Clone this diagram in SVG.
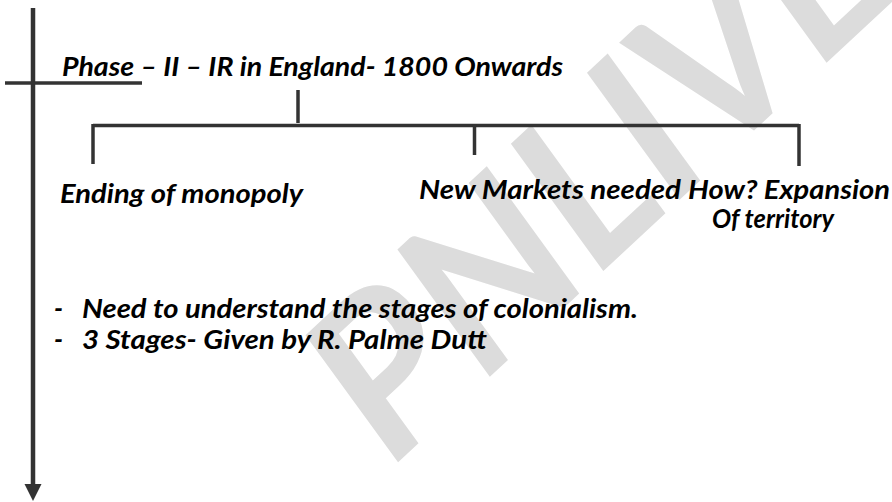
<svg xmlns="http://www.w3.org/2000/svg" width="892" height="502" viewBox="0 0 892 502">
<style>
.t{font-family:Lato,"Liberation Sans",sans-serif;font-weight:bold;font-style:italic;font-size:26px;fill:#000}
.wm{font-family:Lato,"Liberation Sans",sans-serif;font-weight:bold;font-style:italic;font-size:216px;fill:#dcdcdc}
.ln{stroke:#333;stroke-width:3.5;fill:none}
.main{stroke:#333;stroke-width:4.5;fill:none}
</style>
<rect width="892" height="502" fill="#fff"/>
<text class="wm" transform="translate(392,468) rotate(-43)">PNLIVE</text>
<g id="connectors">
<line class="main" x1="33" y1="8" x2="33" y2="485"/>
<path d="M24.5,484 L41.5,484 L33,501 Z" fill="#333"/>
<line class="ln" x1="5" y1="83" x2="142" y2="83"/>
<line class="ln" x1="298" y1="90" x2="298" y2="123"/>
<line class="ln" x1="93" y1="125.5" x2="799" y2="125.5"/>
<line class="ln" x1="93" y1="124" x2="93" y2="164"/>
<line class="ln" x1="474.5" y1="124" x2="474.5" y2="155"/>
<line class="ln" x1="799" y1="124" x2="799" y2="166"/>
</g>
<g id="title"><text class="t" x="62" y="76" textLength="501" lengthAdjust="spacingAndGlyphs">Phase – II – IR in England- 1800 Onwards</text></g>
<g id="ending"><text class="t" x="60" y="203" textLength="243" lengthAdjust="spacingAndGlyphs">Ending of monopoly</text></g>
<g id="markets"><text class="t" x="419" y="199" textLength="262" lengthAdjust="spacingAndGlyphs">New Markets needed</text></g>
<g id="expansion"><text class="t" x="688" y="199" textLength="202" lengthAdjust="spacingAndGlyphs">How? Expansion</text>
<text class="t" x="712" y="228" textLength="122" lengthAdjust="spacingAndGlyphs">Of territory</text></g>
<g id="bullets">
<text class="t" x="54" y="318">-</text>
<text class="t" x="82" y="318" textLength="556" lengthAdjust="spacingAndGlyphs">Need to understand the stages of colonialism.</text>
<text class="t" x="54" y="349">-</text>
<text class="t" x="82" y="349" textLength="405" lengthAdjust="spacingAndGlyphs">3 Stages- Given by R. Palme Dutt</text>
</g>
</svg>
